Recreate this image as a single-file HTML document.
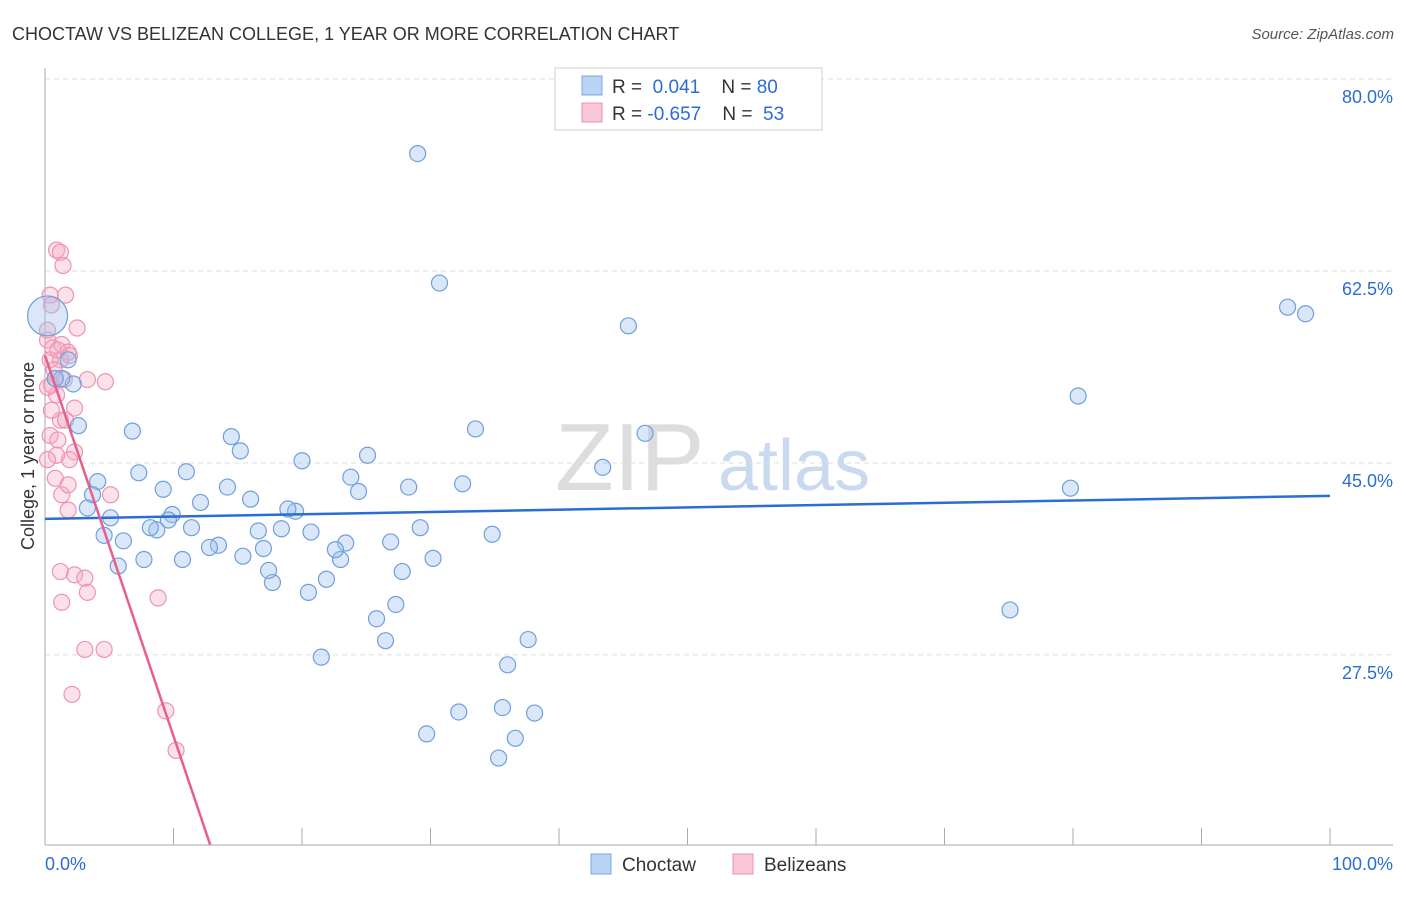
<!DOCTYPE html>
<html><head><meta charset="utf-8"><style>
body{margin:0;background:#fff;font-family:"Liberation Sans",sans-serif;}
svg text{font-family:"Liberation Sans",sans-serif;}
</style></head><body>
<svg id="chart" width="1406" height="892" viewBox="0 0 1406 892">
<text x="12" y="40" font-size="18" fill="#333">CHOCTAW VS BELIZEAN COLLEGE, 1 YEAR OR MORE CORRELATION CHART</text>
<text x="1394" y="39" font-size="15" fill="#555" font-style="italic" text-anchor="end">Source: ZipAtlas.com</text>
<text x="555" y="490" font-size="96" fill="#ddd" font-family="Liberation Serif,serif">ZIP</text>
<text x="718" y="490" font-size="72" fill="#c9daf0">atlas</text>
<text transform="translate(34,456) rotate(-90)" font-size="18" fill="#333" text-anchor="middle">College, 1 year or more</text>
<g id="grid"></g><g id="axes"></g><g id="marks"></g>
<g>
<rect x="555" y="68" width="267" height="62" fill="#fff" stroke="#ccc"/>
<rect x="582" y="76" width="20" height="19" fill="#b9d3f5" stroke="#7aa8e0"/>
<rect x="582" y="103" width="20" height="19" fill="#f9c6d6" stroke="#ee8fae"/>
<text x="612" y="93" font-size="19" fill="#333">R = <tspan fill="#2a6dd4">&#160;0.041</tspan>&#160;&#160;&#160; N = <tspan fill="#2a6dd4">80</tspan></text>
<text x="612" y="120" font-size="19" fill="#333">R = <tspan fill="#2a6dd4">-0.657</tspan>&#160;&#160;&#160; N = <tspan fill="#2a6dd4">&#160;53</tspan></text>
</g>
<g>
<rect x="591" y="854" width="20" height="20" fill="#b9d3f5" stroke="#7aa8e0"/>
<text x="622" y="871" font-size="19" fill="#333">Choctaw</text>
<rect x="733" y="854" width="20" height="20" fill="#f9c6d6" stroke="#ee8fae"/>
<text x="764" y="871" font-size="19" fill="#333">Belizeans</text>
</g>
</svg>
<script>
const yTicks=[80,62.5,45,27.5];
const yTickLabels=["80.0%","62.5%","45.0%","27.5%"];
const xTicks=[0,10,20,30,40,50,60,70,80,90,100];
const blueX=[29.0,30.7,45.4,96.7,98.1,80.4,79.8,75.1,43.4,46.7,33.5,32.5,28.3,34.8,29.2,30.2,26.9,27.8,27.3,25.8,26.5,37.6,36.0,32.2,35.6,38.1,36.6,29.7,35.3,25.1,23.8,24.4,23.4,23.0,22.6,21.9,20.5,21.5,20.0,20.7,19.5,18.9,18.4,17.7,17.4,16.6,17.0,16.0,15.4,15.2,14.5,14.2,13.5,12.8,12.1,11.4,11.0,10.7,9.9,9.6,9.2,8.7,8.2,7.7,7.3,6.8,6.1,5.7,5.1,4.6,4.1,3.7,3.3,2.6,2.2,1.8,1.3,0.8,0.2];
const blueY=[73.2,61.4,57.5,59.2,58.6,51.1,42.7,31.6,44.6,47.7,48.1,43.1,42.8,38.5,39.1,36.3,37.8,35.1,32.1,30.8,28.8,28.9,26.6,22.3,22.7,22.2,19.9,20.3,18.1,45.7,43.7,42.4,37.7,36.2,37.1,34.4,33.2,27.3,45.2,38.7,40.6,40.8,39.0,34.1,35.2,38.8,37.2,41.7,36.5,46.1,47.4,42.8,37.5,37.3,41.4,39.1,44.2,36.2,40.3,39.8,42.6,38.9,39.1,36.2,44.1,47.9,37.9,35.6,40.0,38.4,43.3,42.1,40.9,48.4,52.2,54.4,52.7,52.7,58.4];
const pinkX=[0.9,1.2,1.4,1.6,0.4,0.5,2.5,0.2,0.6,1.3,1.8,1.2,0.8,0.5,0.9,3.3,4.7,2.3,1.2,0.4,1.0,2.3,1.9,0.8,1.3,1.8,5.1,1.8,1.2,2.3,3.1,1.3,3.3,8.8,3.1,4.6,2.1,9.4,10.2,0.2,0.4,0.7,1.0,1.5,1.9,0.5,0.9,0.2,1.6,0.2];
const pinkY=[64.4,64.2,63.0,60.3,60.3,59.4,57.3,56.2,55.5,55.8,55.1,54.4,52.7,52.1,51.2,52.6,52.4,50.0,48.9,47.5,47.1,46.0,45.3,43.6,42.1,43.0,42.1,40.7,35.1,34.8,34.5,32.3,33.2,32.7,28.0,28.0,23.9,22.4,18.8,57.1,54.4,53.5,55.3,52.6,54.8,49.8,45.7,51.9,48.9,45.3];
const blueTrend=[39.9,42.0];   // value at x=0, x=100
const pinkTrend=[54.8,-3.47];  // intercept, slope per %
const sx=v=>45+v*12.85, sy=v=>79+(80-v)*10.97;
const NS="http://www.w3.org/2000/svg";
function mk(t,a,p){const e=document.createElementNS(NS,t);for(const k in a)e.setAttribute(k,a[k]);p.appendChild(e);return e;}
const grid=document.getElementById('grid'),axes=document.getElementById('axes'),marks=document.getElementById('marks');
yTicks.forEach((t,i)=>{
 const l=mk('line',{x1:45,x2:1393,y1:sy(t),y2:sy(t),stroke:'#ddd','stroke-dasharray':'5,4'},grid);
 
 
 const tx=mk('text',{x:1393,y:sy(t)+24,'font-size':18,fill:'#2a6dd4','text-anchor':'end'},axes);
 tx.textContent=yTickLabels[i];
 
 
});
const ax=mk('line',{x1:45,x2:1393,y1:845,y2:845,stroke:'#aaa'},axes);


const ay=mk('line',{x1:45,x2:45,y1:68,y2:845,stroke:'#aaa'},axes);


xTicks.forEach(t=>{const l=mk('line',{x1:sx(t),x2:sx(t),y1:828,y2:845,stroke:'#aaa'},axes);
 
 });
const x0=mk('text',{x:45,y:870,'font-size':18,fill:'#2a6dd4'},axes);x0.textContent='0.0%';


const x1=mk('text',{x:1393,y:870,'font-size':18,fill:'#2a6dd4','text-anchor':'end'},axes);x1.textContent='100.0%';


pinkX.forEach((x,i)=>{const c=mk('circle',{cx:sx(x),cy:sy(pinkY[i]),r:8,fill:'rgba(246,170,196,0.35)',stroke:'#ef93b1','stroke-width':1.2},marks);
 
 });
blueX.forEach((x,i)=>{const c=mk('circle',{cx:sx(x),cy:sy(blueY[i]),r:(i==blueX.length-1?20:8),fill:'rgba(160,196,240,0.4)',stroke:'#6f9fdc','stroke-width':1.2},marks);
 
 });
const bl=mk('line',{x1:sx(0),y1:sy(blueTrend[0]),x2:sx(100),y2:sy(blueTrend[1]),stroke:'#2a6dd4','stroke-width':2.5},marks);


const pxEnd=(10.2-pinkTrend[0])/pinkTrend[1];
const pl=mk('line',{x1:sx(0),y1:sy(pinkTrend[0]),x2:sx(pxEnd),y2:sy(pinkTrend[0]+pinkTrend[1]*pxEnd),stroke:'#e8608a','stroke-width':2.5},marks);


</script>
</body></html>
